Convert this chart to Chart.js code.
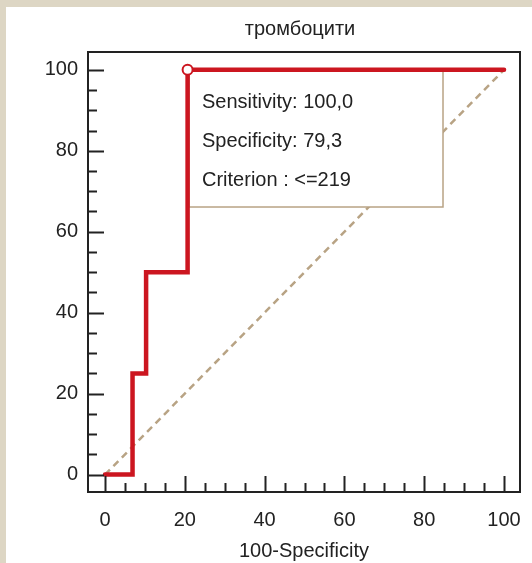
<!DOCTYPE html>
<html>
<head>
<meta charset="utf-8">
<script src="https://cdn.jsdelivr.net/npm/chart.js@4.4.0/dist/chart.umd.min.js"></script>
<style>
  html, body { margin: 0; padding: 0; background: #ddd6c4; }
  #frame { position: absolute; left: 6px; top: 7px; width: 526px; height: 556px; background: #fff; }
  canvas { display: block; }
</style>
</head>
<body>
<div id="frame"><canvas id="roc" width="526" height="556"></canvas></div>
<script>
const chartTitle = "тромбоцити";
const xAxisTitle = "100-Specificity";

// ROC curve (100-Specificity, Sensitivity)
const rocX = [0, 6.9, 6.9, 10.3, 10.3, 20.7, 20.7, 100];
const rocY = [0, 0, 25, 25, 50, 50, 100, 100];

// reference diagonal
const diagX = [0, 100];
const diagY = [0, 100];

// optimal criterion point
const critX = [20.7];
const critY = [100];

const xTicks = [0, 20, 40, 60, 80, 100];
const yTicks = [0, 20, 40, 60, 80, 100];
const minorStep = 5;

const infoLines = ["Sensitivity: 100,0", "Specificity: 79,3", "Criterion : <=219"];

const FONT = '"Liberation Sans", Arial, sans-serif';
const TEXT = "#222";
const RED = "#cc1620";
const TAN = "#b8a384";

function toPoints(xs, ys) {
    return xs.map((x, i) => ({ x: x, y: ys[i] }));
}

// box, frame, inward ticks and chart title
const rocDecor = {
    id: "rocDecor",
    afterDatasetDraw(chart, args) {
        // draw the info box right after the diagonal, under the ROC line
        if (args.index !== 2) return;
        const ctx = chart.ctx;
        const a = chart.chartArea;
        const bx = a.left + 101, by = a.top + 19, bw = 254, bh = 136;
        ctx.save();
        ctx.fillStyle = "#fff";
        ctx.fillRect(bx, by, bw, bh);
        ctx.strokeStyle = TAN;
        ctx.lineWidth = 1.5;
        ctx.strokeRect(bx, by, bw, bh);
        ctx.fillStyle = TEXT;
        ctx.font = "20px " + FONT;
        ctx.textBaseline = "middle";
        ctx.textAlign = "left";
        infoLines.forEach((t, i) => {
            ctx.fillText(t, a.left + 114, a.top + 50 + i * 39);
        });
        ctx.restore();
    },
    afterDraw(chart) {
        const ctx = chart.ctx;
        const a = chart.chartArea;
        const xs = chart.scales.x, ys = chart.scales.y;
        ctx.save();
        ctx.strokeStyle = TEXT;
        ctx.lineWidth = 2;
        ctx.strokeRect(a.left, a.top, a.right - a.left, a.bottom - a.top);

        // ticks pointing into the plot
        ctx.beginPath();
        for (let v = 0; v <= 100; v += minorStep) {
            const len = yTicks.includes(v) ? 16 : 9;
            const py = Math.round(ys.getPixelForValue(v)) + 0.5;
            ctx.moveTo(a.left, py);
            ctx.lineTo(a.left + len, py);
        }
        for (let v = 0; v <= 100; v += minorStep) {
            const len = xTicks.includes(v) ? 16 : 9;
            const px = Math.round(xs.getPixelForValue(v)) + 0.5;
            ctx.moveTo(px, a.bottom);
            ctx.lineTo(px, a.bottom - len);
        }
        ctx.stroke();

        ctx.fillStyle = TEXT;
        ctx.font = "20px " + FONT;
        ctx.textAlign = "center";
        ctx.textBaseline = "middle";
        ctx.fillText(chartTitle, 294, 22);
        ctx.restore();
    }
};

new Chart(document.getElementById("roc"), {
    type: "scatter",
    data: {
        datasets: [
            {
                label: "criterion",
                data: toPoints(critX, critY),
                pointRadius: 5,
                pointBackgroundColor: "#fff",
                pointBorderColor: RED,
                pointBorderWidth: 2,
                showLine: false
            },
            {
                label: "ROC",
                data: toPoints(rocX, rocY),
                showLine: true,
                borderColor: RED,
                borderWidth: 4.5,
                borderCapStyle: "round",
                borderJoinStyle: "miter",
                pointRadius: 0,
                tension: 0
            },
            {
                label: "diagonal",
                data: toPoints(diagX, diagY),
                showLine: true,
                borderColor: TAN,
                borderWidth: 2.5,
                borderDash: [7, 5],
                pointRadius: 0
            }
        ]
    },
    options: {
        responsive: false,
        animation: false,
        devicePixelRatio: 1,
        layout: { padding: { top: 45, right: 12, left: 0, bottom: 0 } },
        plugins: {
            legend: { display: false },
            tooltip: { enabled: false },
            title: { display: false }
        },
        scales: {
            x: {
                type: "linear",
                min: -4.26,
                max: 104.0,
                grid: { display: false, drawTicks: false },
                border: { display: false },
                afterBuildTicks: s => { s.ticks = xTicks.map(v => ({ value: v })); },
                afterFit: s => { s.height = 71; s.paddingLeft = 0; s.paddingRight = 0; },
                ticks: { color: TEXT, font: { family: FONT, size: 20 }, padding: 16, maxRotation: 0 },
                title: {
                    display: true,
                    text: xAxisTitle,
                    color: TEXT,
                    font: { family: FONT, size: 20 },
                    padding: { top: 3, bottom: 0 }
                }
            },
            y: {
                type: "linear",
                min: -4.3,
                max: 104.4,
                grid: { display: false, drawTicks: false },
                border: { display: false },
                afterBuildTicks: s => { s.ticks = yTicks.map(v => ({ value: v })); },
                afterFit: s => { s.width = 82; s.paddingTop = 0; s.paddingBottom = 0; },
                ticks: { color: TEXT, font: { family: FONT, size: 20 }, padding: 10 }
            }
        }
    },
    plugins: [rocDecor]
});
</script>
</body>
</html>
